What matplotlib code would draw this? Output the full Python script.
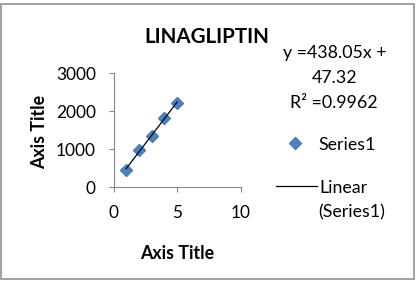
import matplotlib
matplotlib.use('Agg')
import matplotlib.pyplot as plt
from matplotlib.lines import Line2D
from matplotlib.patches import Rectangle
import numpy as np

# calibration data
conc = [1, 2, 3, 4, 5]
resp = [445, 980, 1350, 1830, 2215]
slope = 438.05
intercept = 47.32
r2 = 0.9962

xticks = [0, 5, 10]
yticks = [0, 1000, 2000, 3000]

W, H = 419, 282
plt.rcParams['font.family'] = ['Lato', 'DejaVu Sans']
fig = plt.figure(figsize=(W / 100, H / 100), dpi=100)


def fx(x):
    return x / W


def fy(y):
    return 1 - y / H


# chart border
fig.add_artist(Rectangle((fx(1), fy(279)), fx(413), (279 - 4) / H,
                         transform=fig.transFigure, fill=False,
                         edgecolor='#9a9a9a', lw=1.3))

ax = fig.add_axes([fx(113.5), fy(187), (240.5 - 113.5) / W, (187 - 73.3) / H])
ax.plot(conc, resp, linestyle='none', marker='D', ms=6.3,
        color='#4F81BD', mec='#4A7EBB', zorder=3)
fit_x = np.array([conc[0], conc[-1]])
ax.plot(fit_x, slope * fit_x + intercept, color='black', lw=0.9, zorder=4)

ax.set_xlim(0, 10)
ax.set_ylim(0, 3000)
ax.set_xticks(xticks)
ax.set_yticks(yticks)
for s in ['top', 'right']:
    ax.spines[s].set_visible(False)
for s in ['left', 'bottom']:
    ax.spines[s].set_color('#868686')
    ax.spines[s].set_linewidth(0.8)
ax.tick_params(direction='out', length=3.5, width=0.8, color='#868686',
               labelsize=12.4)
ax.tick_params(axis='y', pad=9.2)
ax.tick_params(axis='x', pad=9.5)

fs = 12.8
fig.text(fx(207), fy(42.7), 'LINAGLIPTIN', ha='center', va='baseline',
         fontsize=14.8, fontweight='bold')
fig.text(fx(176.7), fy(259), 'Axis Title', ha='center', va='baseline',
         fontsize=fs, fontweight='bold')
fig.text(fx(45), fy(131.7), 'Axis Title', ha='center', va='baseline',
         rotation=90, rotation_mode='anchor', fontsize=fs, fontweight='bold')

# trendline label
fig.text(fx(335), fy(57.7), 'y =%.2fx +' % slope, ha='center', va='baseline', fontsize=fs)
fig.text(fx(335), fy(83), '%.2f' % intercept, ha='center', va='baseline', fontsize=fs)
fig.text(fx(334), fy(107.7), 'R² =%.4f' % r2, ha='center', va='baseline', fontsize=fs)

# legend
fig.add_artist(Line2D([fx(295)], [fy(143)], transform=fig.transFigure,
                      linestyle='none', marker='D', ms=6.3,
                      color='#4F81BD', mec='#4A7EBB'))
fig.text(fx(318), fy(149.5), 'Series1', ha='left', va='baseline', fontsize=fs)
fig.add_artist(Line2D([fx(276), fx(317)], [fy(186), fy(186)],
                      transform=fig.transFigure, color='black', lw=0.9))
fig.text(fx(319), fy(192.7), 'Linear', ha='left', va='baseline', fontsize=fs)
fig.text(fx(318), fy(217.7), '(Series1)', ha='left', va='baseline', fontsize=fs)

fig.savefig('out.png', dpi=100, facecolor='white')
